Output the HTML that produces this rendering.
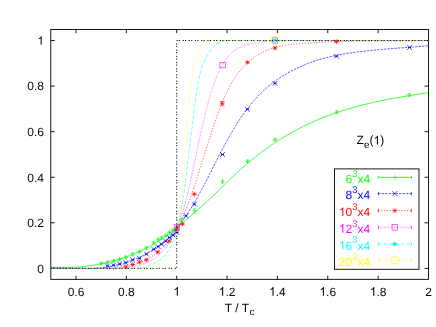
<!DOCTYPE html><html><head><meta charset="utf-8"><style>
html,body{margin:0;padding:0;background:#fff}
body{width:436px;height:327px;position:relative;overflow:hidden;font-family:"Liberation Sans",sans-serif;font-size:12px;color:#000}
svg{display:block}
text{font-family:"Liberation Sans",sans-serif}
</style></head><body>
<svg width="436" height="327" viewBox="0 0 436 327" style="position:absolute;left:0;top:0">
<rect width="436" height="327" fill="#fff"/>
<g stroke="#000" stroke-width="0.9" fill="none">
<rect x="50.8" y="29.5" width="377.7" height="249.85000000000002"/>
<path d="M50.8,268.40h4M428.5,268.40h-4"/>
<path d="M50.8,222.82h4M428.5,222.82h-4"/>
<path d="M50.8,177.24h4M428.5,177.24h-4"/>
<path d="M50.8,131.66h4M428.5,131.66h-4"/>
<path d="M50.8,86.08h4M428.5,86.08h-4"/>
<path d="M50.8,40.50h4M428.5,40.50h-4"/>
<path d="M75.98,279.35v-3.6M75.98,29.5v3.6"/>
<path d="M126.34,279.35v-3.6M126.34,29.5v3.6"/>
<path d="M176.70,279.35v-3.6M176.70,29.5v3.6"/>
<path d="M227.06,279.35v-3.6M227.06,29.5v3.6"/>
<path d="M277.42,279.35v-3.6M277.42,29.5v3.6"/>
<path d="M327.78,279.35v-3.6M327.78,29.5v3.6"/>
<path d="M378.14,279.35v-3.6M378.14,29.5v3.6"/>
</g>
<path d="M50.67,267.13 L52.18,267.22 L53.69,267.30 L55.21,267.37 L56.72,267.42 L58.23,267.47 L59.74,267.50 L61.26,267.53 L62.77,267.54 L64.28,267.54 L65.79,267.52 L67.31,267.50 L68.82,267.47 L70.33,267.42 L71.83,267.36 L73.34,267.29 L74.85,267.21 L76.35,267.12 L77.86,267.01 L79.36,266.90 L80.86,266.77 L82.36,266.63 L83.86,266.48 L85.36,266.32 L86.85,266.14 L88.34,265.96 L89.84,265.76 L91.32,265.55 L92.81,265.33 L94.29,265.10 L95.77,264.85 L97.25,264.59 L98.73,264.32 L100.20,264.04 L101.67,263.75 L103.14,263.44 L104.60,263.13 L106.06,262.80 L107.52,262.46 L108.97,262.11 L110.42,261.74 L111.87,261.36 L113.32,260.97 L114.75,260.57 L116.19,260.16 L117.62,259.73 L119.05,259.30 L120.47,258.85 L121.89,258.38 L123.31,257.91 L124.72,257.42 L126.12,256.92 L127.52,256.41 L128.92,255.89 L130.31,255.35 L131.69,254.81 L133.07,254.24 L134.45,253.67 L135.82,253.09 L137.18,252.49 L138.54,251.88 L139.90,251.26 L141.25,250.62 L142.59,249.97 L143.92,249.31 L145.25,248.64 L146.58,247.95 L147.90,247.26 L149.21,246.55 L150.51,245.82 L151.81,245.09 L153.10,244.34 L154.39,243.58 L155.67,242.80 L156.94,242.02 L158.20,241.22 L159.46,240.41 L160.71,239.59 L161.96,238.75 L163.20,237.91 L164.43,237.06 L165.66,236.20 L166.88,235.32 L168.10,234.44 L169.31,233.55 L170.52,232.65 L171.72,231.74 L172.92,230.83 L174.11,229.90 L175.30,228.97 L176.48,228.04 L177.66,227.09 L178.83,226.14 L180.00,225.19 L181.17,224.23 L182.33,223.26 L183.49,222.29 L184.65,221.31 L185.80,220.33 L186.94,219.35 L188.09,218.36 L189.23,217.37 L190.37,216.38 L191.51,215.39 L192.64,214.39 L193.77,213.39 L194.90,212.39 L196.03,211.39 L197.15,210.39 L198.27,209.39 L199.39,208.39 L200.51,207.38 L201.63,206.38 L202.74,205.38 L203.85,204.37 L204.96,203.36 L206.07,202.35 L207.17,201.34 L208.27,200.33 L209.37,199.31 L210.47,198.29 L211.56,197.27 L212.65,196.25 L213.74,195.22 L214.82,194.19 L215.90,193.16 L216.98,192.12 L218.06,191.08 L219.13,190.03 L220.20,188.98 L221.27,187.93 L222.33,186.88 L223.40,185.83 L224.46,184.77 L225.53,183.72 L226.60,182.67 L227.66,181.61 L228.73,180.56 L229.80,179.51 L230.87,178.46 L231.95,177.42 L233.03,176.38 L234.11,175.34 L235.20,174.31 L236.29,173.28 L237.39,172.26 L238.49,171.24 L239.60,170.23 L240.71,169.23 L241.82,168.23 L242.95,167.23 L244.08,166.25 L245.21,165.26 L246.35,164.29 L247.49,163.32 L248.64,162.35 L249.79,161.40 L250.95,160.44 L252.11,159.50 L253.27,158.56 L254.45,157.62 L255.62,156.70 L256.80,155.77 L257.99,154.86 L259.18,153.95 L260.38,153.05 L261.58,152.15 L262.78,151.26 L263.99,150.38 L265.21,149.50 L266.42,148.63 L267.65,147.76 L268.88,146.91 L270.11,146.05 L271.34,145.21 L272.58,144.37 L273.83,143.54 L275.08,142.72 L276.33,141.90 L277.59,141.09 L278.85,140.28 L280.12,139.48 L281.39,138.69 L282.67,137.91 L283.95,137.13 L285.23,136.36 L286.52,135.60 L287.81,134.84 L289.10,134.09 L290.40,133.35 L291.71,132.61 L293.02,131.88 L294.33,131.16 L295.64,130.45 L296.96,129.74 L298.29,129.04 L299.61,128.35 L300.94,127.66 L302.28,126.99 L303.62,126.32 L304.96,125.65 L306.30,125.00 L307.65,124.35 L309.01,123.71 L310.36,123.08 L311.72,122.45 L313.09,121.83 L314.46,121.22 L315.83,120.62 L317.20,120.03 L318.58,119.44 L319.96,118.86 L321.35,118.29 L322.73,117.73 L324.12,117.17 L325.52,116.62 L326.92,116.08 L328.32,115.55 L329.72,115.03 L331.13,114.51 L332.54,114.00 L333.95,113.50 L335.37,113.01 L336.79,112.52 L338.21,112.04 L339.64,111.57 L341.07,111.11 L342.50,110.65 L343.93,110.20 L345.36,109.76 L346.80,109.32 L348.24,108.89 L349.68,108.47 L351.13,108.05 L352.57,107.64 L354.02,107.23 L355.47,106.83 L356.92,106.44 L358.38,106.05 L359.83,105.67 L361.29,105.30 L362.75,104.93 L364.21,104.57 L365.67,104.21 L367.13,103.85 L368.60,103.51 L370.06,103.16 L371.53,102.83 L373.00,102.49 L374.47,102.17 L375.94,101.84 L377.41,101.52 L378.88,101.21 L380.35,100.90 L381.83,100.60 L383.30,100.30 L384.78,100.00 L386.25,99.71 L387.73,99.42 L389.20,99.14 L390.68,98.86 L392.16,98.58 L393.63,98.31 L395.11,98.04 L396.59,97.77 L398.06,97.51 L399.54,97.25 L401.02,96.99 L402.49,96.74 L403.97,96.49 L405.45,96.24 L406.92,96.00 L408.39,95.76 L409.87,95.52 L411.34,95.28 L412.81,95.05 L414.29,94.82 L415.76,94.59 L417.23,94.36 L418.70,94.13 L420.16,93.91 L421.63,93.69 L423.10,93.47 L424.56,93.25 L426.02,93.03 L427.49,92.82 L428.31,92.70" fill="none" stroke="#00ff00" stroke-width="0.78"/>
<path d="M51.02,267.65 L52.45,267.74 L53.90,267.83 L55.35,267.91 L56.80,268.00 L58.27,268.08 L59.74,268.16 L61.21,268.23 L62.69,268.31 L64.17,268.38 L65.66,268.40 L67.15,268.40 L68.65,268.40 L70.15,268.40 L71.65,268.40 L73.16,268.40 L74.67,268.40 L76.18,268.40 L77.70,268.40 L79.21,268.40 L80.73,268.40 L82.25,268.40 L83.77,268.40 L85.29,268.40 L86.81,268.40 L88.33,268.40 L89.86,268.40 L91.38,268.40 L92.90,268.39 L94.41,268.29 L95.93,268.18 L97.45,268.05 L98.96,267.92 L100.47,267.76 L101.98,267.60 L103.49,267.41 L104.99,267.21 L106.49,267.00 L107.99,266.77 L109.48,266.52 L110.96,266.26 L112.45,265.98 L113.93,265.68 L115.40,265.36 L116.86,265.02 L118.33,264.67 L119.78,264.30 L121.23,263.91 L122.68,263.51 L124.11,263.08 L125.54,262.64 L126.97,262.19 L128.38,261.71 L129.79,261.22 L131.19,260.71 L132.58,260.18 L133.97,259.63 L135.34,259.07 L136.71,258.49 L138.07,257.89 L139.42,257.27 L140.76,256.64 L142.09,255.99 L143.41,255.32 L144.72,254.64 L146.02,253.94 L147.31,253.22 L148.59,252.48 L149.86,251.72 L151.12,250.95 L152.36,250.16 L153.59,249.36 L154.82,248.53 L156.02,247.69 L157.22,246.84 L158.41,245.96 L159.58,245.07 L160.74,244.16 L161.88,243.23 L163.01,242.29 L164.13,241.33 L165.23,240.35 L166.32,239.36 L167.40,238.35 L168.46,237.32 L169.51,236.28 L170.55,235.22 L171.57,234.15 L172.58,233.06 L173.58,231.96 L174.57,230.85 L175.54,229.72 L176.51,228.58 L177.46,227.43 L178.40,226.27 L179.33,225.10 L180.25,223.91 L181.16,222.71 L182.05,221.51 L182.94,220.29 L183.82,219.07 L184.69,217.83 L185.55,216.59 L186.40,215.34 L187.24,214.08 L188.08,212.81 L188.90,211.54 L189.72,210.26 L190.53,208.97 L191.33,207.68 L192.12,206.38 L192.90,205.08 L193.68,203.77 L194.45,202.46 L195.22,201.15 L195.98,199.83 L196.73,198.51 L197.48,197.18 L198.22,195.86 L198.95,194.53 L199.68,193.20 L200.41,191.87 L201.13,190.54 L201.84,189.21 L202.55,187.88 L203.26,186.55 L203.96,185.21 L204.66,183.88 L205.36,182.55 L206.05,181.21 L206.74,179.88 L207.43,178.54 L208.11,177.20 L208.80,175.87 L209.48,174.53 L210.16,173.20 L210.84,171.86 L211.52,170.53 L212.19,169.19 L212.87,167.85 L213.55,166.52 L214.22,165.18 L214.90,163.85 L215.58,162.51 L216.25,161.18 L216.93,159.85 L217.61,158.51 L218.30,157.18 L218.98,155.85 L219.67,154.52 L220.35,153.19 L221.04,151.86 L221.74,150.53 L222.43,149.21 L223.13,147.88 L223.84,146.56 L224.54,145.23 L225.25,143.91 L225.97,142.59 L226.69,141.27 L227.42,139.95 L228.15,138.63 L228.88,137.32 L229.62,136.01 L230.37,134.70 L231.12,133.39 L231.88,132.08 L232.64,130.78 L233.41,129.48 L234.19,128.19 L234.98,126.90 L235.77,125.61 L236.57,124.33 L237.37,123.06 L238.19,121.78 L239.01,120.52 L239.84,119.26 L240.67,118.01 L241.52,116.76 L242.37,115.52 L243.23,114.29 L244.10,113.06 L244.98,111.84 L245.87,110.63 L246.77,109.43 L247.68,108.24 L248.60,107.06 L249.53,105.88 L250.46,104.72 L251.41,103.56 L252.37,102.41 L253.34,101.28 L254.32,100.15 L255.31,99.04 L256.32,97.94 L257.33,96.85 L258.35,95.77 L259.39,94.70 L260.44,93.65 L261.50,92.60 L262.58,91.57 L263.66,90.56 L264.76,89.56 L265.87,88.57 L266.99,87.59 L268.13,86.63 L269.27,85.68 L270.43,84.74 L271.60,83.82 L272.78,82.91 L273.97,82.02 L275.17,81.13 L276.38,80.26 L277.60,79.41 L278.83,78.57 L280.07,77.74 L281.32,76.92 L282.58,76.12 L283.85,75.33 L285.12,74.56 L286.41,73.80 L287.70,73.05 L289.01,72.31 L290.32,71.59 L291.64,70.89 L292.96,70.19 L294.30,69.51 L295.64,68.85 L296.98,68.19 L298.34,67.55 L299.70,66.93 L301.07,66.32 L302.44,65.72 L303.82,65.13 L305.21,64.56 L306.60,64.01 L308.00,63.46 L309.40,62.93 L310.81,62.42 L312.23,61.92 L313.64,61.43 L315.07,60.95 L316.49,60.49 L317.92,60.04 L319.36,59.61 L320.80,59.19 L322.24,58.78 L323.69,58.38 L325.14,57.99 L326.59,57.62 L328.05,57.25 L329.51,56.90 L330.97,56.56 L332.44,56.23 L333.91,55.91 L335.38,55.60 L336.85,55.30 L338.33,55.01 L339.81,54.72 L341.29,54.45 L342.78,54.19 L344.26,53.93 L345.75,53.68 L347.24,53.44 L348.73,53.21 L350.22,52.98 L351.72,52.76 L353.21,52.55 L354.71,52.35 L356.21,52.15 L357.70,51.95 L359.20,51.77 L360.70,51.58 L362.20,51.41 L363.70,51.23 L365.21,51.06 L366.71,50.90 L368.21,50.74 L369.71,50.59 L371.21,50.43 L372.71,50.28 L374.21,50.14 L375.71,49.99 L377.21,49.85 L378.71,49.71 L380.21,49.58 L381.70,49.44 L383.20,49.31 L384.70,49.18 L386.19,49.06 L387.69,48.93 L389.18,48.81 L390.68,48.69 L392.17,48.57 L393.66,48.45 L395.16,48.33 L396.65,48.21 L398.14,48.10 L399.63,47.98 L401.12,47.87 L402.60,47.75 L404.09,47.64 L405.58,47.53 L407.07,47.42 L408.55,47.31 L410.04,47.19 L411.52,47.08 L413.00,46.97 L414.48,46.86 L415.97,46.75 L417.45,46.63 L418.93,46.52 L420.40,46.40 L421.88,46.29 L423.36,46.17 L424.83,46.06 L426.31,45.94 L427.78,45.82 L428.31,45.77" fill="none" stroke="#0000ff" stroke-width="0.66" stroke-dasharray="2.30 1.15"/>
<path d="M50.93,268.40 L52.41,268.40 L53.88,268.40 L55.36,268.40 L56.85,268.38 L58.33,268.29 L59.82,268.21 L61.31,268.16 L62.80,268.11 L64.29,268.07 L65.78,268.05 L67.27,268.04 L68.77,268.04 L70.26,268.05 L71.76,268.06 L73.26,268.09 L74.76,268.12 L76.26,268.15 L77.76,268.19 L79.27,268.23 L80.77,268.28 L82.27,268.33 L83.78,268.38 L85.28,268.40 L86.79,268.40 L88.29,268.40 L89.80,268.40 L91.30,268.40 L92.81,268.40 L94.32,268.40 L95.82,268.40 L97.33,268.40 L98.84,268.40 L100.34,268.40 L101.85,268.40 L103.35,268.40 L104.86,268.40 L106.36,268.40 L107.86,268.40 L109.37,268.40 L110.87,268.40 L112.37,268.32 L113.87,268.20 L115.37,268.06 L116.87,267.91 L118.36,267.73 L119.86,267.54 L121.35,267.33 L122.84,267.09 L124.33,266.84 L125.81,266.56 L127.28,266.26 L128.75,265.93 L130.21,265.58 L131.66,265.21 L133.11,264.81 L134.54,264.39 L135.97,263.94 L137.38,263.47 L138.78,262.97 L140.18,262.44 L141.55,261.88 L142.92,261.29 L144.27,260.68 L145.60,260.04 L146.92,259.36 L148.22,258.66 L149.50,257.92 L150.77,257.15 L152.01,256.36 L153.24,255.53 L154.45,254.68 L155.65,253.80 L156.82,252.89 L157.97,251.96 L159.11,251.00 L160.22,250.02 L161.32,249.01 L162.40,247.98 L163.45,246.92 L164.49,245.85 L165.50,244.75 L166.50,243.63 L167.47,242.50 L168.42,241.34 L169.35,240.17 L170.26,238.97 L171.15,237.77 L172.02,236.54 L172.86,235.30 L173.69,234.05 L174.49,232.78 L175.28,231.50 L176.05,230.20 L176.80,228.90 L177.54,227.58 L178.26,226.26 L178.96,224.93 L179.65,223.58 L180.33,222.24 L180.99,220.88 L181.64,219.52 L182.27,218.15 L182.90,216.78 L183.51,215.40 L184.11,214.01 L184.70,212.62 L185.28,211.23 L185.85,209.83 L186.41,208.43 L186.97,207.03 L187.52,205.62 L188.05,204.21 L188.59,202.80 L189.11,201.39 L189.63,199.97 L190.14,198.55 L190.64,197.13 L191.14,195.71 L191.64,194.29 L192.13,192.87 L192.61,191.44 L193.09,190.02 L193.56,188.59 L194.04,187.17 L194.50,185.74 L194.97,184.32 L195.43,182.89 L195.89,181.47 L196.35,180.05 L196.80,178.62 L197.26,177.20 L197.71,175.78 L198.16,174.36 L198.61,172.94 L199.06,171.52 L199.51,170.11 L199.95,168.69 L200.40,167.27 L200.84,165.86 L201.28,164.44 L201.73,163.02 L202.17,161.61 L202.61,160.19 L203.06,158.78 L203.50,157.36 L203.94,155.94 L204.38,154.53 L204.83,153.11 L205.27,151.70 L205.72,150.28 L206.16,148.86 L206.61,147.44 L207.06,146.03 L207.51,144.61 L207.96,143.19 L208.41,141.77 L208.86,140.35 L209.32,138.93 L209.78,137.50 L210.24,136.08 L210.70,134.66 L211.16,133.23 L211.63,131.80 L212.10,130.38 L212.57,128.95 L213.05,127.52 L213.53,126.08 L214.01,124.65 L214.50,123.22 L214.98,121.78 L215.48,120.34 L215.97,118.90 L216.47,117.46 L216.98,116.02 L217.49,114.59 L218.01,113.15 L218.53,111.71 L219.06,110.28 L219.60,108.84 L220.14,107.41 L220.69,105.99 L221.25,104.56 L221.82,103.15 L222.40,101.73 L222.99,100.32 L223.58,98.92 L224.19,97.53 L224.81,96.14 L225.44,94.76 L226.08,93.38 L226.74,92.02 L227.41,90.66 L228.09,89.31 L228.78,87.97 L229.49,86.65 L230.21,85.33 L230.94,84.03 L231.70,82.73 L232.46,81.45 L233.25,80.18 L234.04,78.93 L234.86,77.69 L235.69,76.46 L236.55,75.25 L237.42,74.05 L238.30,72.87 L239.21,71.71 L240.14,70.56 L241.08,69.43 L242.05,68.32 L243.04,67.22 L244.04,66.15 L245.07,65.09 L246.13,64.05 L247.20,63.04 L248.30,62.04 L249.41,61.07 L250.55,60.12 L251.71,59.19 L252.89,58.29 L254.09,57.41 L255.31,56.57 L256.55,55.74 L257.81,54.95 L259.08,54.19 L260.38,53.46 L261.69,52.75 L263.01,52.08 L264.36,51.44 L265.72,50.83 L267.09,50.25 L268.47,49.70 L269.87,49.18 L271.28,48.69 L272.70,48.23 L274.13,47.79 L275.56,47.38 L277.01,47.00 L278.46,46.64 L279.92,46.31 L281.39,46.00 L282.86,45.72 L284.34,45.45 L285.83,45.20 L287.32,44.97 L288.81,44.76 L290.31,44.57 L291.81,44.38 L293.31,44.21 L294.82,44.06 L296.33,43.91 L297.84,43.78 L299.35,43.65 L300.86,43.53 L302.38,43.41 L303.89,43.30 L305.40,43.19 L306.91,43.09 L308.42,42.99 L309.93,42.90 L311.44,42.80 L312.94,42.71 L314.45,42.63 L315.95,42.54 L317.46,42.46 L318.96,42.38 L320.47,42.31 L321.97,42.24 L323.47,42.17 L324.98,42.10 L326.48,42.04 L327.98,41.97 L329.48,41.92 L330.98,41.86 L332.48,41.81 L333.98,41.75 L335.48,41.71 L336.97,41.66 L338.47,41.61 L339.97,41.57 L341.47,41.53 L342.96,41.49 L344.46,41.45 L345.96,41.42 L347.45,41.39 L348.95,41.36 L350.44,41.33 L351.94,41.30 L353.44,41.27 L354.93,41.25 L356.43,41.23 L357.92,41.20 L359.42,41.18 L360.91,41.16 L362.41,41.15 L363.90,41.13 L365.39,41.11 L366.89,41.10 L368.38,41.09 L369.88,41.07 L371.37,41.06 L372.87,41.05 L374.36,41.04 L375.86,41.03 L377.36,41.02 L378.85,41.02 L380.35,41.01 L381.84,41.00 L383.34,41.00 L384.84,40.99 L386.33,40.98 L387.83,40.98 L389.33,40.97 L390.83,40.97 L392.33,40.96 L393.83,40.96 L395.32,40.95 L396.82,40.95 L398.33,40.94 L399.83,40.93 L401.33,40.93 L402.83,40.92 L404.33,40.91 L405.83,40.91 L407.34,40.90 L408.84,40.89 L410.35,40.88 L411.85,40.87 L413.36,40.86 L414.87,40.85 L416.37,40.84 L417.88,40.82 L419.39,40.81 L420.90,40.79 L422.41,40.78 L423.92,40.76 L425.44,40.74 L426.95,40.72 L428.47,40.70 L428.58,40.70" fill="none" stroke="#ff0000" stroke-width="0.66" stroke-dasharray="1.15 1.72"/>
<path d="M50.80,268.40 L52.30,268.40 L53.80,268.40 L55.30,268.40 L56.80,268.40 L58.31,268.34 L59.81,268.28 L61.31,268.23 L62.81,268.19 L64.31,268.16 L65.81,268.13 L67.31,268.12 L68.81,268.12 L70.31,268.12 L71.81,268.12 L73.31,268.14 L74.81,268.16 L76.31,268.18 L77.81,268.21 L79.31,268.24 L80.81,268.28 L82.31,268.32 L83.81,268.35 L85.31,268.39 L86.81,268.40 L88.31,268.40 L89.81,268.40 L91.31,268.40 L92.81,268.40 L94.31,268.40 L95.81,268.40 L97.31,268.40 L98.81,268.40 L100.31,268.40 L101.81,268.40 L103.31,268.40 L104.81,268.40 L106.31,268.40 L107.80,268.40 L109.30,268.40 L110.80,268.40 L112.30,268.40 L113.80,268.40 L115.30,268.40 L116.80,268.40 L118.30,268.40 L119.80,268.32 L121.29,268.21 L122.79,268.09 L124.29,267.95 L125.78,267.80 L127.27,267.62 L128.76,267.43 L130.24,267.21 L131.71,266.98 L133.18,266.71 L134.64,266.42 L136.10,266.10 L137.54,265.75 L138.97,265.37 L140.40,264.96 L141.81,264.51 L143.21,264.03 L144.59,263.51 L145.96,262.95 L147.32,262.35 L148.66,261.71 L149.98,261.02 L151.29,260.29 L152.57,259.52 L153.84,258.70 L155.09,257.84 L156.31,256.93 L157.50,255.99 L158.67,255.01 L159.81,253.99 L160.92,252.95 L161.99,251.86 L163.03,250.75 L164.04,249.61 L165.00,248.45 L165.93,247.26 L166.82,246.04 L167.67,244.81 L168.49,243.56 L169.28,242.29 L170.05,241.00 L170.78,239.70 L171.50,238.39 L172.19,237.07 L172.87,235.74 L173.53,234.40 L174.18,233.06 L174.81,231.71 L175.43,230.35 L176.04,228.99 L176.63,227.63 L177.21,226.25 L177.77,224.88 L178.32,223.49 L178.87,222.11 L179.39,220.71 L179.91,219.32 L180.42,217.92 L180.91,216.51 L181.40,215.10 L181.87,213.68 L182.33,212.27 L182.79,210.84 L183.23,209.42 L183.67,207.99 L184.10,206.55 L184.52,205.12 L184.93,203.68 L185.33,202.23 L185.73,200.79 L186.11,199.34 L186.50,197.89 L186.87,196.43 L187.24,194.98 L187.61,193.52 L187.96,192.06 L188.32,190.60 L188.66,189.13 L189.01,187.67 L189.35,186.20 L189.68,184.73 L190.02,183.26 L190.34,181.79 L190.67,180.32 L190.99,178.85 L191.32,177.38 L191.63,175.91 L191.95,174.44 L192.27,172.96 L192.58,171.49 L192.90,170.02 L193.21,168.54 L193.52,167.07 L193.84,165.60 L194.15,164.13 L194.46,162.65 L194.77,161.18 L195.08,159.71 L195.39,158.24 L195.70,156.77 L196.01,155.30 L196.33,153.83 L196.64,152.36 L196.95,150.89 L197.26,149.42 L197.57,147.95 L197.89,146.48 L198.20,145.02 L198.52,143.55 L198.83,142.08 L199.15,140.62 L199.47,139.15 L199.79,137.69 L200.11,136.22 L200.43,134.76 L200.76,133.30 L201.08,131.84 L201.41,130.38 L201.74,128.92 L202.07,127.46 L202.40,126.00 L202.74,124.54 L203.08,123.09 L203.42,121.63 L203.76,120.18 L204.10,118.72 L204.45,117.27 L204.80,115.82 L205.15,114.37 L205.51,112.92 L205.87,111.47 L206.23,110.03 L206.60,108.58 L206.97,107.14 L207.34,105.70 L207.72,104.25 L208.10,102.81 L208.49,101.37 L208.88,99.94 L209.28,98.50 L209.69,97.07 L210.11,95.63 L210.53,94.20 L210.97,92.77 L211.41,91.34 L211.87,89.91 L212.33,88.48 L212.81,87.05 L213.30,85.63 L213.80,84.20 L214.32,82.78 L214.85,81.36 L215.39,79.94 L215.95,78.52 L216.53,77.10 L217.12,75.69 L217.73,74.28 L218.36,72.87 L219.01,71.47 L219.67,70.08 L220.36,68.71 L221.07,67.35 L221.81,66.00 L222.56,64.68 L223.35,63.38 L224.15,62.10 L224.99,60.85 L225.85,59.63 L226.74,58.44 L227.66,57.28 L228.61,56.16 L229.59,55.08 L230.61,54.04 L231.66,53.04 L232.74,52.08 L233.86,51.17 L235.01,50.31 L236.20,49.51 L237.43,48.75 L238.69,48.04 L239.98,47.38 L241.30,46.76 L242.64,46.18 L244.02,45.65 L245.42,45.15 L246.83,44.70 L248.27,44.27 L249.73,43.89 L251.21,43.53 L252.69,43.20 L254.19,42.91 L255.71,42.64 L257.23,42.39 L258.75,42.17 L260.29,41.97 L261.82,41.79 L263.36,41.63 L264.89,41.48 L266.43,41.35 L267.96,41.23 L269.48,41.12 L271.00,41.02 L272.52,40.93 L274.03,40.86 L275.54,40.79 L277.05,40.73 L278.55,40.68 L280.05,40.64 L281.55,40.61 L283.05,40.58 L284.55,40.56 L286.04,40.54 L287.53,40.53 L289.02,40.52 L290.51,40.52 L292.00,40.52 L293.49,40.52 L294.98,40.53 L296.47,40.53 L297.96,40.54 L299.44,40.54 L300.93,40.55 L302.42,40.55 L303.91,40.56 L305.41,40.56 L306.90,40.57 L308.39,40.57 L309.88,40.57 L311.38,40.58 L312.87,40.58 L314.37,40.58 L315.86,40.58 L317.36,40.59 L318.85,40.59 L320.35,40.59 L321.85,40.59 L323.34,40.59 L324.84,40.59 L326.34,40.59 L327.84,40.59 L329.34,40.59 L330.84,40.58 L332.34,40.58 L333.84,40.58 L335.34,40.58 L336.84,40.58 L338.34,40.58 L339.84,40.57 L341.34,40.57 L342.84,40.57 L344.34,40.57 L345.85,40.56 L347.35,40.56 L348.85,40.56 L350.35,40.55 L351.85,40.55 L353.36,40.55 L354.86,40.54 L356.36,40.54 L357.87,40.54 L359.37,40.53 L360.87,40.53 L362.38,40.53 L363.88,40.52 L365.38,40.52 L366.89,40.52 L368.39,40.51 L369.89,40.51 L371.40,40.51 L372.90,40.50 L374.40,40.50 L375.91,40.50 L377.41,40.50 L378.91,40.50 L380.41,40.50 L381.92,40.50 L383.42,40.50 L384.92,40.50 L386.42,40.50 L387.93,40.50 L389.43,40.50 L390.93,40.50 L392.43,40.50 L393.93,40.50 L395.43,40.50 L396.93,40.50 L398.43,40.50 L399.93,40.50 L401.43,40.50 L402.93,40.50 L404.43,40.50 L405.93,40.50 L407.42,40.50 L408.92,40.50 L410.42,40.50 L411.92,40.50 L413.41,40.50 L414.91,40.50 L416.40,40.50 L417.90,40.50 L419.39,40.50 L420.89,40.51 L422.38,40.51 L423.87,40.52 L425.36,40.53 L426.85,40.53 L428.35,40.54 L428.45,40.54" fill="none" stroke="#ff00ff" stroke-width="0.66" stroke-dasharray="0.57 0.86"/>
<path d="M50.66,268.40 L52.20,268.40 L53.74,268.40 L55.27,268.40 L56.80,268.40 L58.32,268.40 L59.84,268.40 L61.36,268.40 L62.87,268.40 L64.39,268.40 L65.89,268.40 L67.40,268.40 L68.90,268.40 L70.40,268.40 L71.90,268.40 L73.40,268.39 L74.89,268.39 L76.39,268.39 L77.88,268.39 L79.37,268.38 L80.86,268.38 L82.35,268.38 L83.83,268.38 L85.32,268.38 L86.81,268.37 L88.29,268.37 L89.78,268.37 L91.27,268.37 L92.75,268.37 L94.24,268.37 L95.73,268.37 L97.22,268.37 L98.71,268.37 L100.20,268.37 L101.69,268.37 L103.18,268.38 L104.68,268.38 L106.18,268.38 L107.68,268.39 L109.18,268.39 L110.68,268.40 L112.19,268.40 L113.70,268.40 L115.21,268.40 L116.73,268.40 L118.24,268.40 L119.77,268.40 L121.29,268.40 L122.82,268.40 L124.35,268.40 L125.88,268.40 L127.41,268.40 L128.93,268.40 L130.46,268.40 L131.98,268.35 L133.50,268.27 L135.01,268.18 L136.51,268.06 L138.00,267.91 L139.49,267.74 L140.96,267.53 L142.43,267.28 L143.88,267.00 L145.32,266.69 L146.74,266.32 L148.15,265.92 L149.54,265.46 L150.92,264.96 L152.27,264.40 L153.61,263.79 L154.92,263.13 L156.21,262.40 L157.48,261.61 L158.72,260.77 L159.93,259.88 L161.10,258.94 L162.24,257.94 L163.33,256.90 L164.39,255.82 L165.39,254.69 L166.35,253.53 L167.26,252.33 L168.11,251.09 L168.90,249.82 L169.64,248.52 L170.32,247.19 L170.97,245.84 L171.57,244.47 L172.14,243.08 L172.68,241.68 L173.19,240.27 L173.68,238.84 L174.16,237.41 L174.62,235.98 L175.07,234.54 L175.50,233.11 L175.93,231.67 L176.34,230.22 L176.75,228.78 L177.14,227.33 L177.52,225.88 L177.89,224.43 L178.26,222.98 L178.61,221.52 L178.95,220.06 L179.29,218.60 L179.61,217.14 L179.93,215.68 L180.24,214.21 L180.54,212.74 L180.83,211.28 L181.12,209.81 L181.39,208.33 L181.66,206.86 L181.93,205.39 L182.19,203.91 L182.44,202.43 L182.68,200.95 L182.92,199.47 L183.16,197.99 L183.39,196.51 L183.61,195.03 L183.83,193.55 L184.04,192.06 L184.25,190.58 L184.46,189.09 L184.67,187.60 L184.87,186.12 L185.06,184.63 L185.26,183.14 L185.45,181.65 L185.64,180.16 L185.82,178.67 L186.01,177.18 L186.19,175.69 L186.38,174.20 L186.56,172.71 L186.74,171.22 L186.92,169.73 L187.10,168.24 L187.28,166.75 L187.46,165.26 L187.64,163.77 L187.82,162.28 L188.00,160.79 L188.18,159.30 L188.36,157.81 L188.54,156.32 L188.72,154.83 L188.89,153.35 L189.07,151.86 L189.25,150.37 L189.43,148.88 L189.61,147.39 L189.79,145.90 L189.97,144.41 L190.15,142.92 L190.33,141.44 L190.51,139.95 L190.69,138.46 L190.87,136.97 L191.05,135.48 L191.23,133.99 L191.41,132.51 L191.59,131.02 L191.78,129.53 L191.96,128.04 L192.14,126.55 L192.32,125.07 L192.51,123.58 L192.69,122.09 L192.87,120.60 L193.06,119.11 L193.24,117.63 L193.43,116.14 L193.61,114.65 L193.80,113.16 L193.99,111.67 L194.17,110.19 L194.36,108.70 L194.55,107.21 L194.74,105.72 L194.93,104.24 L195.12,102.75 L195.31,101.26 L195.51,99.77 L195.70,98.28 L195.90,96.80 L196.10,95.31 L196.30,93.82 L196.51,92.34 L196.73,90.85 L196.96,89.37 L197.19,87.89 L197.44,86.40 L197.69,84.92 L197.96,83.45 L198.24,81.97 L198.54,80.49 L198.85,79.02 L199.18,77.55 L199.52,76.08 L199.88,74.61 L200.27,73.15 L200.67,71.69 L201.09,70.23 L201.54,68.77 L202.01,67.32 L202.50,65.87 L203.02,64.42 L203.57,62.98 L204.14,61.56 L204.74,60.14 L205.38,58.75 L206.04,57.38 L206.74,56.03 L207.47,54.71 L208.23,53.43 L209.03,52.18 L209.87,50.98 L210.74,49.82 L211.65,48.71 L212.61,47.65 L213.60,46.65 L214.64,45.71 L215.71,44.84 L216.84,44.03 L218.01,43.29 L219.22,42.63 L220.49,42.04 L221.80,41.54 L223.16,41.13 L224.57,40.79 L226.01,40.53 L227.49,40.50 L229.00,40.50 L230.54,40.50 L232.09,40.50 L233.65,40.50 L235.23,40.50 L236.80,40.50 L238.38,40.50 L239.94,40.50 L241.50,40.50 L243.04,40.50 L244.57,40.50 L246.10,40.50 L247.61,40.50 L249.12,40.50 L250.62,40.50 L252.12,40.50 L253.61,40.50 L255.10,40.52 L256.59,40.54 L258.08,40.56 L259.57,40.57 L261.06,40.58 L262.55,40.59 L264.04,40.60 L265.53,40.61 L267.02,40.61 L268.52,40.62 L270.01,40.62 L271.50,40.62 L273.00,40.62 L274.49,40.61 L275.99,40.61 L277.49,40.60 L278.98,40.60 L280.48,40.59 L281.98,40.58 L283.47,40.58 L284.97,40.57 L286.47,40.56 L287.97,40.55 L289.47,40.54 L290.96,40.54 L292.46,40.53 L293.96,40.52 L295.46,40.52 L296.96,40.51 L298.46,40.50 L299.95,40.50 L301.45,40.50 L302.95,40.50 L304.45,40.50 L305.95,40.50 L307.45,40.50 L308.95,40.50 L310.45,40.50 L311.95,40.50 L313.45,40.50 L314.95,40.50 L316.45,40.50 L317.95,40.50 L319.45,40.50 L320.95,40.50 L322.44,40.50 L323.94,40.50 L325.44,40.50 L326.94,40.50 L328.44,40.50 L329.94,40.50 L331.44,40.50 L332.95,40.50 L334.45,40.50 L335.95,40.50 L337.45,40.50 L338.95,40.50 L340.45,40.50 L341.95,40.50 L343.45,40.50 L344.95,40.50 L346.45,40.50 L347.95,40.50 L349.45,40.50 L350.95,40.50 L352.45,40.50 L353.95,40.50 L355.45,40.50 L356.95,40.50 L358.45,40.50 L359.96,40.50 L361.46,40.50 L362.96,40.50 L364.46,40.50 L365.96,40.50 L367.46,40.51 L368.96,40.51 L370.46,40.51 L371.96,40.51 L373.47,40.51 L374.97,40.52 L376.47,40.52 L377.97,40.52 L379.47,40.52 L380.97,40.52 L382.47,40.52 L383.97,40.53 L385.47,40.53 L386.98,40.53 L388.48,40.53 L389.98,40.53 L391.48,40.53 L392.98,40.53 L394.48,40.53 L395.98,40.53 L397.48,40.53 L398.99,40.53 L400.49,40.53 L401.99,40.53 L403.49,40.52 L404.99,40.52 L406.49,40.52 L407.99,40.52 L409.49,40.51 L411.00,40.51 L412.50,40.51 L414.00,40.51 L415.50,40.50 L417.00,40.50 L418.50,40.50 L420.00,40.50 L421.50,40.50 L423.01,40.50 L424.51,40.50 L426.01,40.50 L427.51,40.50 L428.49,40.50" fill="none" stroke="#00ffff" stroke-width="0.66" stroke-dasharray="2.88 1.15 0.57 1.15"/>
<path d="M50.63,268.19 L52.17,268.25 L53.72,268.30 L55.26,268.35 L56.79,268.39 L58.32,268.40 L59.85,268.40 L61.37,268.40 L62.89,268.40 L64.40,268.40 L65.91,268.40 L67.42,268.40 L68.92,268.40 L70.43,268.40 L71.93,268.40 L73.42,268.40 L74.92,268.40 L76.41,268.40 L77.90,268.40 L79.39,268.40 L80.88,268.40 L82.37,268.40 L83.85,268.40 L85.34,268.40 L86.82,268.39 L88.31,268.36 L89.79,268.34 L91.27,268.32 L92.76,268.30 L94.24,268.28 L95.73,268.26 L97.21,268.25 L98.70,268.23 L100.19,268.22 L101.68,268.21 L103.17,268.20 L104.66,268.19 L106.15,268.19 L107.65,268.19 L109.15,268.19 L110.65,268.20 L112.15,268.21 L113.66,268.22 L115.17,268.24 L116.68,268.27 L118.20,268.30 L119.72,268.33 L121.24,268.37 L122.77,268.40 L124.30,268.40 L125.84,268.40 L127.38,268.40 L128.92,268.40 L130.45,268.40 L131.99,268.40 L133.52,268.40 L135.05,268.40 L136.58,268.40 L138.10,268.40 L139.61,268.40 L141.11,268.40 L142.60,268.40 L144.08,268.32 L145.55,268.14 L147.01,267.91 L148.45,267.65 L149.87,267.34 L151.28,266.97 L152.67,266.56 L154.05,266.09 L155.40,265.56 L156.73,264.98 L158.03,264.32 L159.32,263.60 L160.57,262.82 L161.79,261.97 L162.98,261.07 L164.13,260.10 L165.23,259.09 L166.28,258.02 L167.28,256.90 L168.22,255.74 L169.10,254.54 L169.92,253.29 L170.67,252.01 L171.34,250.70 L171.95,249.35 L172.49,247.98 L172.98,246.58 L173.42,245.15 L173.81,243.71 L174.17,242.25 L174.49,240.77 L174.79,239.29 L175.06,237.80 L175.32,236.30 L175.57,234.80 L175.81,233.30 L176.05,231.80 L176.29,230.30 L176.53,228.81 L176.76,227.31 L176.98,225.81 L177.21,224.32 L177.43,222.82 L177.64,221.33 L177.86,219.84 L178.07,218.34 L178.28,216.85 L178.48,215.36 L178.68,213.87 L178.88,212.38 L179.08,210.89 L179.27,209.40 L179.46,207.91 L179.65,206.42 L179.83,204.93 L180.01,203.44 L180.19,201.95 L180.37,200.47 L180.55,198.98 L180.72,197.49 L180.89,196.00 L181.06,194.52 L181.22,193.03 L181.39,191.54 L181.55,190.05 L181.71,188.57 L181.86,187.08 L182.02,185.59 L182.17,184.10 L182.33,182.62 L182.48,181.13 L182.62,179.64 L182.77,178.15 L182.92,176.67 L183.06,175.18 L183.20,173.69 L183.34,172.20 L183.48,170.71 L183.62,169.22 L183.76,167.73 L183.90,166.24 L184.03,164.75 L184.16,163.25 L184.30,161.76 L184.43,160.27 L184.56,158.78 L184.69,157.28 L184.82,155.79 L184.95,154.29 L185.08,152.80 L185.20,151.30 L185.33,149.81 L185.46,148.31 L185.58,146.82 L185.71,145.32 L185.83,143.82 L185.95,142.33 L186.08,140.83 L186.20,139.33 L186.32,137.83 L186.45,136.34 L186.57,134.84 L186.69,133.34 L186.81,131.85 L186.94,130.35 L187.06,128.85 L187.18,127.35 L187.30,125.86 L187.43,124.36 L187.55,122.86 L187.67,121.36 L187.80,119.87 L187.92,118.37 L188.04,116.87 L188.17,115.38 L188.29,113.88 L188.42,112.39 L188.54,110.89 L188.67,109.40 L188.80,107.90 L188.93,106.41 L189.06,104.91 L189.19,103.42 L189.32,101.93 L189.45,100.43 L189.58,98.94 L189.71,97.45 L189.85,95.96 L189.98,94.47 L190.12,92.98 L190.26,91.49 L190.40,90.00 L190.54,88.52 L190.69,87.03 L190.85,85.54 L191.01,84.05 L191.18,82.56 L191.35,81.08 L191.54,79.59 L191.73,78.10 L191.93,76.61 L192.15,75.12 L192.38,73.63 L192.62,72.13 L192.87,70.64 L193.14,69.15 L193.42,67.65 L193.72,66.16 L194.04,64.66 L194.38,63.16 L194.73,61.66 L195.11,60.16 L195.50,58.65 L195.92,57.15 L196.36,55.65 L196.84,54.18 L197.35,52.73 L197.91,51.32 L198.52,49.97 L199.18,48.67 L199.90,47.45 L200.70,46.31 L201.56,45.26 L202.50,44.32 L203.53,43.48 L204.64,42.77 L205.83,42.18 L207.10,41.69 L208.43,41.29 L209.82,40.98 L211.26,40.74 L212.74,40.56 L214.25,40.50 L215.79,40.50 L217.34,40.50 L218.90,40.50 L220.47,40.50 L222.03,40.50 L223.58,40.50 L225.12,40.50 L226.66,40.50 L228.19,40.50 L229.72,40.50 L231.24,40.50 L232.76,40.50 L234.27,40.50 L235.78,40.50 L237.28,40.50 L238.79,40.50 L240.29,40.50 L241.78,40.50 L243.28,40.50 L244.77,40.50 L246.26,40.50 L247.75,40.50 L249.23,40.50 L250.72,40.50 L252.21,40.52 L253.70,40.53 L255.19,40.54 L256.68,40.55 L258.17,40.56 L259.66,40.57 L261.15,40.58 L262.65,40.58 L264.14,40.58 L265.64,40.58 L267.13,40.59 L268.63,40.59 L270.13,40.58 L271.63,40.58 L273.13,40.58 L274.63,40.58 L276.13,40.57 L277.63,40.57 L279.13,40.56 L280.63,40.56 L282.14,40.55 L283.64,40.55 L285.14,40.54 L286.64,40.53 L288.15,40.53 L289.65,40.52 L291.15,40.52 L292.65,40.51 L294.15,40.51 L295.66,40.50 L297.16,40.50 L298.66,40.50 L300.16,40.50 L301.66,40.50 L303.16,40.50 L304.67,40.50 L306.17,40.50 L307.67,40.50 L309.17,40.50 L310.67,40.50 L312.17,40.50 L313.67,40.50 L315.17,40.50 L316.67,40.50 L318.17,40.50 L319.67,40.50 L321.17,40.50 L322.67,40.50 L324.17,40.50 L325.67,40.50 L327.17,40.50 L328.67,40.50 L330.17,40.50 L331.67,40.50 L333.17,40.50 L334.67,40.50 L336.17,40.50 L337.67,40.50 L339.17,40.50 L340.67,40.50 L342.17,40.50 L343.67,40.50 L345.17,40.50 L346.67,40.50 L348.17,40.50 L349.67,40.50 L351.17,40.50 L352.67,40.50 L354.17,40.50 L355.67,40.50 L357.16,40.50 L358.66,40.50 L360.16,40.50 L361.66,40.50 L363.16,40.50 L364.66,40.50 L366.16,40.50 L367.66,40.51 L369.16,40.51 L370.66,40.51 L372.16,40.51 L373.66,40.51 L375.16,40.51 L376.66,40.51 L378.16,40.52 L379.66,40.52 L381.16,40.52 L382.66,40.52 L384.16,40.52 L385.66,40.52 L387.16,40.52 L388.66,40.52 L390.16,40.52 L391.66,40.52 L393.16,40.52 L394.66,40.52 L396.16,40.52 L397.66,40.52 L399.16,40.52 L400.66,40.52 L402.16,40.52 L403.66,40.52 L405.16,40.52 L406.67,40.52 L408.17,40.51 L409.67,40.51 L411.17,40.51 L412.67,40.51 L414.17,40.51 L415.67,40.50 L417.18,40.50 L418.68,40.50 L420.18,40.50 L421.68,40.50 L423.18,40.50 L424.69,40.50 L426.19,40.50 L427.69,40.50 L428.51,40.50" fill="none" stroke="#ffff00" stroke-width="0.66" stroke-dasharray="2.30 1.72 0.57 1.72"/>
<rect x="174.15" y="224.65" width="5.5" height="5.5" fill="none" stroke="#ff00ff" stroke-width="0.6"/>
<rect x="219.85" y="62.35" width="5.5" height="5.5" fill="none" stroke="#ff00ff" stroke-width="0.6"/>
<rect x="272.25" y="37.75" width="5.5" height="5.5" fill="none" stroke="#ff00ff" stroke-width="0.6"/>
<rect x="273.20" y="38.70" width="3.6" height="3.6" fill="#00ffff"/>
<circle cx="275.00" cy="40.50" r="3.9" fill="none" stroke="#ffff00" stroke-width="0.7"/>
<path d="M99.10,263.40h4.4M101.30,261.20v4.4" stroke="#00ff00" stroke-width="0.62" fill="none"/>
<path d="M99.70,262.10h3.2M99.70,264.70h3.2M101.30,262.10v2.6" stroke="#00ff00" stroke-width="0.45" fill="none"/>
<path d="M105.30,262.30h4.4M107.50,260.10v4.4" stroke="#00ff00" stroke-width="0.62" fill="none"/>
<path d="M105.90,261.00h3.2M105.90,263.60h3.2M107.50,261.00v2.6" stroke="#00ff00" stroke-width="0.45" fill="none"/>
<path d="M111.30,261.00h4.4M113.50,258.80v4.4" stroke="#00ff00" stroke-width="0.62" fill="none"/>
<path d="M111.90,259.70h3.2M111.90,262.30h3.2M113.50,259.70v2.6" stroke="#00ff00" stroke-width="0.45" fill="none"/>
<path d="M117.40,259.40h4.4M119.60,257.20v4.4" stroke="#00ff00" stroke-width="0.62" fill="none"/>
<path d="M118.00,258.10h3.2M118.00,260.70h3.2M119.60,258.10v2.6" stroke="#00ff00" stroke-width="0.45" fill="none"/>
<path d="M123.60,257.30h4.4M125.80,255.10v4.4" stroke="#00ff00" stroke-width="0.62" fill="none"/>
<path d="M124.20,256.00h3.2M124.20,258.60h3.2M125.80,256.00v2.6" stroke="#00ff00" stroke-width="0.45" fill="none"/>
<path d="M130.40,254.10h4.4M132.60,251.90v4.4" stroke="#00ff00" stroke-width="0.62" fill="none"/>
<path d="M131.00,252.80h3.2M131.00,255.40h3.2M132.60,252.80v2.6" stroke="#00ff00" stroke-width="0.45" fill="none"/>
<path d="M137.30,251.70h4.4M139.50,249.50v4.4" stroke="#00ff00" stroke-width="0.62" fill="none"/>
<path d="M137.90,250.40h3.2M137.90,253.00h3.2M139.50,250.40v2.6" stroke="#00ff00" stroke-width="0.45" fill="none"/>
<path d="M144.20,248.00h4.4M146.40,245.80v4.4" stroke="#00ff00" stroke-width="0.62" fill="none"/>
<path d="M144.80,246.70h3.2M144.80,249.30h3.2M146.40,246.70v2.6" stroke="#00ff00" stroke-width="0.45" fill="none"/>
<path d="M151.50,242.90h4.4M153.70,240.70v4.4" stroke="#00ff00" stroke-width="0.62" fill="none"/>
<path d="M152.10,241.60h3.2M152.10,244.20h3.2M153.70,241.60v2.6" stroke="#00ff00" stroke-width="0.45" fill="none"/>
<path d="M155.90,239.70h4.4M158.10,237.50v4.4" stroke="#00ff00" stroke-width="0.62" fill="none"/>
<path d="M156.50,238.40h3.2M156.50,241.00h3.2M158.10,238.40v2.6" stroke="#00ff00" stroke-width="0.45" fill="none"/>
<path d="M159.30,237.90h4.4M161.50,235.70v4.4" stroke="#00ff00" stroke-width="0.62" fill="none"/>
<path d="M159.90,236.60h3.2M159.90,239.20h3.2M161.50,236.60v2.6" stroke="#00ff00" stroke-width="0.45" fill="none"/>
<path d="M163.50,235.60h4.4M165.70,233.40v4.4" stroke="#00ff00" stroke-width="0.62" fill="none"/>
<path d="M164.10,234.30h3.2M164.10,236.90h3.2M165.70,234.30v2.6" stroke="#00ff00" stroke-width="0.45" fill="none"/>
<path d="M167.10,232.60h4.4M169.30,230.40v4.4" stroke="#00ff00" stroke-width="0.62" fill="none"/>
<path d="M167.70,231.30h3.2M167.70,233.90h3.2M169.30,231.30v2.6" stroke="#00ff00" stroke-width="0.45" fill="none"/>
<path d="M170.80,230.30h4.4M173.00,228.10v4.4" stroke="#00ff00" stroke-width="0.62" fill="none"/>
<path d="M171.40,229.00h3.2M171.40,231.60h3.2M173.00,229.00v2.6" stroke="#00ff00" stroke-width="0.45" fill="none"/>
<path d="M174.70,227.30h4.4M176.90,225.10v4.4" stroke="#00ff00" stroke-width="0.62" fill="none"/>
<path d="M175.30,226.00h3.2M175.30,228.60h3.2M176.90,226.00v2.6" stroke="#00ff00" stroke-width="0.45" fill="none"/>
<path d="M179.40,219.80h4.4M181.60,217.60v4.4" stroke="#00ff00" stroke-width="0.62" fill="none"/>
<path d="M180.00,218.50h3.2M180.00,221.10h3.2M181.60,218.50v2.6" stroke="#00ff00" stroke-width="0.45" fill="none"/>
<path d="M192.40,210.70h4.4M194.60,208.50v4.4" stroke="#00ff00" stroke-width="0.62" fill="none"/>
<path d="M193.00,208.40h3.2M193.00,213.00h3.2M194.60,208.40v4.6" stroke="#00ff00" stroke-width="0.45" fill="none"/>
<path d="M220.30,181.65h4.4M222.50,179.45v4.4" stroke="#00ff00" stroke-width="0.62" fill="none"/>
<path d="M220.90,180.35h3.2M220.90,182.95h3.2M222.50,180.35v2.6" stroke="#00ff00" stroke-width="0.45" fill="none"/>
<path d="M245.40,161.40h4.4M247.60,159.20v4.4" stroke="#00ff00" stroke-width="0.62" fill="none"/>
<path d="M246.00,160.10h3.2M246.00,162.70h3.2M247.60,160.10v2.6" stroke="#00ff00" stroke-width="0.45" fill="none"/>
<path d="M272.90,139.60h4.4M275.10,137.40v4.4" stroke="#00ff00" stroke-width="0.62" fill="none"/>
<path d="M273.50,138.30h3.2M273.50,140.90h3.2M275.10,138.30v2.6" stroke="#00ff00" stroke-width="0.45" fill="none"/>
<path d="M334.40,112.20h4.4M336.60,110.00v4.4" stroke="#00ff00" stroke-width="0.62" fill="none"/>
<path d="M335.00,110.90h3.2M335.00,113.50h3.2M336.60,110.90v2.6" stroke="#00ff00" stroke-width="0.45" fill="none"/>
<path d="M407.20,95.20h4.4M409.40,93.00v4.4" stroke="#00ff00" stroke-width="0.62" fill="none"/>
<path d="M407.80,93.90h3.2M407.80,96.50h3.2M409.40,93.90v2.6" stroke="#00ff00" stroke-width="0.45" fill="none"/>
<path d="M123.40,266.90h4.8M125.80,264.50v4.8" stroke="#ff0000" stroke-width="0.62" fill="none"/><path d="M123.90,265.00l3.8,3.8M123.90,268.80l3.8,-3.8" stroke="#ff0000" stroke-width="0.6" fill="none"/>
<path d="M124.60,266.90h2.4" stroke="#ff0000" stroke-width="1.0" fill="none"/>
<path d="M130.20,264.50h4.8M132.60,262.10v4.8" stroke="#ff0000" stroke-width="0.62" fill="none"/><path d="M130.70,262.60l3.8,3.8M130.70,266.40l3.8,-3.8" stroke="#ff0000" stroke-width="0.6" fill="none"/>
<path d="M131.40,264.50h2.4" stroke="#ff0000" stroke-width="1.0" fill="none"/>
<path d="M137.10,262.10h4.8M139.50,259.70v4.8" stroke="#ff0000" stroke-width="0.62" fill="none"/><path d="M137.60,260.20l3.8,3.8M137.60,264.00l3.8,-3.8" stroke="#ff0000" stroke-width="0.6" fill="none"/>
<path d="M138.30,262.10h2.4" stroke="#ff0000" stroke-width="1.0" fill="none"/>
<path d="M144.00,259.90h4.8M146.40,257.50v4.8" stroke="#ff0000" stroke-width="0.62" fill="none"/><path d="M144.50,258.00l3.8,3.8M144.50,261.80l3.8,-3.8" stroke="#ff0000" stroke-width="0.6" fill="none"/>
<path d="M145.20,259.90h2.4" stroke="#ff0000" stroke-width="1.0" fill="none"/>
<path d="M155.40,252.10h4.8M157.80,249.70v4.8" stroke="#ff0000" stroke-width="0.62" fill="none"/><path d="M155.90,250.20l3.8,3.8M155.90,254.00l3.8,-3.8" stroke="#ff0000" stroke-width="0.6" fill="none"/>
<path d="M156.60,252.10h2.4" stroke="#ff0000" stroke-width="1.0" fill="none"/>
<path d="M166.70,241.10h4.8M169.10,238.70v4.8" stroke="#ff0000" stroke-width="0.62" fill="none"/><path d="M167.20,239.20l3.8,3.8M167.20,243.00l3.8,-3.8" stroke="#ff0000" stroke-width="0.6" fill="none"/>
<path d="M167.90,241.10h2.4" stroke="#ff0000" stroke-width="1.0" fill="none"/>
<path d="M174.50,228.20h4.8M176.90,225.80v4.8" stroke="#ff0000" stroke-width="0.62" fill="none"/><path d="M175.00,226.30l3.8,3.8M175.00,230.10l3.8,-3.8" stroke="#ff0000" stroke-width="0.6" fill="none"/>
<path d="M175.70,228.20h2.4" stroke="#ff0000" stroke-width="1.0" fill="none"/>
<path d="M180.10,224.00h4.8M182.50,221.60v4.8" stroke="#ff0000" stroke-width="0.62" fill="none"/><path d="M180.60,222.10l3.8,3.8M180.60,225.90l3.8,-3.8" stroke="#ff0000" stroke-width="0.6" fill="none"/>
<path d="M181.30,224.00h2.4" stroke="#ff0000" stroke-width="1.0" fill="none"/>
<path d="M192.00,194.10h4.8M194.40,191.70v4.8" stroke="#ff0000" stroke-width="0.62" fill="none"/><path d="M192.50,192.20l3.8,3.8M192.50,196.00l3.8,-3.8" stroke="#ff0000" stroke-width="0.6" fill="none"/>
<path d="M193.20,194.10h2.4" stroke="#ff0000" stroke-width="1.0" fill="none"/>
<path d="M219.90,103.40h4.8M222.30,101.00v4.8" stroke="#ff0000" stroke-width="0.62" fill="none"/><path d="M220.40,101.50l3.8,3.8M220.40,105.30l3.8,-3.8" stroke="#ff0000" stroke-width="0.6" fill="none"/>
<path d="M220.10,101.40h4.4M220.10,105.40h4.4M222.30,101.40v4.0" stroke="#ff0000" stroke-width="0.5" fill="none"/>
<path d="M245.05,62.35h4.8M247.45,59.95v4.8" stroke="#ff0000" stroke-width="0.62" fill="none"/><path d="M245.55,60.45l3.8,3.8M245.55,64.25l3.8,-3.8" stroke="#ff0000" stroke-width="0.6" fill="none"/>
<path d="M246.25,62.35h2.4" stroke="#ff0000" stroke-width="1.0" fill="none"/>
<path d="M272.60,48.00h4.8M275.00,45.60v4.8" stroke="#ff0000" stroke-width="0.62" fill="none"/><path d="M273.10,46.10l3.8,3.8M273.10,49.90l3.8,-3.8" stroke="#ff0000" stroke-width="0.6" fill="none"/>
<path d="M273.80,48.00h2.4" stroke="#ff0000" stroke-width="1.0" fill="none"/>
<path d="M334.10,41.60h4.8M336.50,39.20v4.8" stroke="#ff0000" stroke-width="0.62" fill="none"/><path d="M334.60,39.70l3.8,3.8M334.60,43.50l3.8,-3.8" stroke="#ff0000" stroke-width="0.6" fill="none"/>
<path d="M335.30,41.60h2.4" stroke="#ff0000" stroke-width="1.0" fill="none"/>
<path d="M105.10,263.50l4.8,4.8M105.10,268.30l4.8,-4.8" stroke="#0000ff" stroke-width="0.7" fill="none"/>
<path d="M106.10,265.90h2.8" stroke="#0000ff" stroke-width="1.0" fill="none"/>
<path d="M111.10,262.70l4.8,4.8M111.10,267.50l4.8,-4.8" stroke="#0000ff" stroke-width="0.7" fill="none"/>
<path d="M112.10,265.10h2.8" stroke="#0000ff" stroke-width="1.0" fill="none"/>
<path d="M117.20,261.60l4.8,4.8M117.20,266.40l4.8,-4.8" stroke="#0000ff" stroke-width="0.7" fill="none"/>
<path d="M118.20,264.00h2.8" stroke="#0000ff" stroke-width="1.0" fill="none"/>
<path d="M123.40,260.30l4.8,4.8M123.40,265.10l4.8,-4.8" stroke="#0000ff" stroke-width="0.7" fill="none"/>
<path d="M124.40,262.70h2.8" stroke="#0000ff" stroke-width="1.0" fill="none"/>
<path d="M130.20,257.50l4.8,4.8M130.20,262.30l4.8,-4.8" stroke="#0000ff" stroke-width="0.7" fill="none"/>
<path d="M131.20,259.90h2.8" stroke="#0000ff" stroke-width="1.0" fill="none"/>
<path d="M137.10,255.90l4.8,4.8M137.10,260.70l4.8,-4.8" stroke="#0000ff" stroke-width="0.7" fill="none"/>
<path d="M138.10,258.30h2.8" stroke="#0000ff" stroke-width="1.0" fill="none"/>
<path d="M144.00,251.70l4.8,4.8M144.00,256.50l4.8,-4.8" stroke="#0000ff" stroke-width="0.7" fill="none"/>
<path d="M145.00,254.10h2.8" stroke="#0000ff" stroke-width="1.0" fill="none"/>
<path d="M151.30,246.90l4.8,4.8M151.30,251.70l4.8,-4.8" stroke="#0000ff" stroke-width="0.7" fill="none"/>
<path d="M152.30,249.30h2.8" stroke="#0000ff" stroke-width="1.0" fill="none"/>
<path d="M155.70,244.20l4.8,4.8M155.70,249.00l4.8,-4.8" stroke="#0000ff" stroke-width="0.7" fill="none"/>
<path d="M156.70,246.60h2.8" stroke="#0000ff" stroke-width="1.0" fill="none"/>
<path d="M159.10,241.80l4.8,4.8M159.10,246.60l4.8,-4.8" stroke="#0000ff" stroke-width="0.7" fill="none"/>
<path d="M160.10,244.20h2.8" stroke="#0000ff" stroke-width="1.0" fill="none"/>
<path d="M163.30,238.70l4.8,4.8M163.30,243.50l4.8,-4.8" stroke="#0000ff" stroke-width="0.7" fill="none"/>
<path d="M164.30,241.10h2.8" stroke="#0000ff" stroke-width="1.0" fill="none"/>
<path d="M167.10,235.20l4.8,4.8M167.10,240.00l4.8,-4.8" stroke="#0000ff" stroke-width="0.7" fill="none"/>
<path d="M168.10,237.60h2.8" stroke="#0000ff" stroke-width="1.0" fill="none"/>
<path d="M170.80,232.60l4.8,4.8M170.80,237.40l4.8,-4.8" stroke="#0000ff" stroke-width="0.7" fill="none"/>
<path d="M171.80,235.00h2.8" stroke="#0000ff" stroke-width="1.0" fill="none"/>
<path d="M174.50,230.10l4.8,4.8M174.50,234.90l4.8,-4.8" stroke="#0000ff" stroke-width="0.7" fill="none"/>
<path d="M175.50,232.50h2.8" stroke="#0000ff" stroke-width="1.0" fill="none"/>
<path d="M183.57,213.45l4.8,4.8M183.57,218.25l4.8,-4.8" stroke="#0000ff" stroke-width="0.7" fill="none"/>
<path d="M184.57,215.85h2.8" stroke="#0000ff" stroke-width="1.0" fill="none"/>
<path d="M192.00,201.70l4.8,4.8M192.00,206.50l4.8,-4.8" stroke="#0000ff" stroke-width="0.7" fill="none"/>
<path d="M193.00,204.10h2.8" stroke="#0000ff" stroke-width="1.0" fill="none"/>
<path d="M220.10,152.10l4.8,4.8M220.10,156.90l4.8,-4.8" stroke="#0000ff" stroke-width="0.7" fill="none"/>
<path d="M221.10,154.50h2.8" stroke="#0000ff" stroke-width="1.0" fill="none"/>
<path d="M245.00,107.00l4.8,4.8M245.00,111.80l4.8,-4.8" stroke="#0000ff" stroke-width="0.7" fill="none"/>
<path d="M246.00,109.40h2.8" stroke="#0000ff" stroke-width="1.0" fill="none"/>
<path d="M272.60,81.00l4.8,4.8M272.60,85.80l4.8,-4.8" stroke="#0000ff" stroke-width="0.7" fill="none"/>
<path d="M273.60,83.40h2.8" stroke="#0000ff" stroke-width="1.0" fill="none"/>
<path d="M334.10,53.85l4.8,4.8M334.10,58.65l4.8,-4.8" stroke="#0000ff" stroke-width="0.7" fill="none"/>
<path d="M335.10,56.25h2.8" stroke="#0000ff" stroke-width="1.0" fill="none"/>
<path d="M407.16,45.07l4.8,4.8M407.16,49.87l4.8,-4.8" stroke="#0000ff" stroke-width="0.7" fill="none"/>
<path d="M408.16,47.47h2.8" stroke="#0000ff" stroke-width="1.0" fill="none"/>
<path d="M50.8,268.4 H176.7 V40.5 H428.5" fill="none" stroke="#000" stroke-width="0.9" stroke-dasharray="1.24 1.24 1.24 2.48"/>
<rect x="334.5" y="168.9" width="84.5" height="100.4" fill="#fff" stroke="#000" stroke-width="0.9"/>
<path d="M378.4,177.35H411.4" stroke="#00ff00" stroke-width="0.78" fill="none"/>
<path d="M378.4,175.65v3.4M411.4,175.65v3.4" stroke="#00ff00" stroke-width="0.72" fill="none"/>
<path d="M378.4,193.6H411.4" stroke="#0000ff" stroke-width="0.66" fill="none" stroke-dasharray="2.30 1.15"/>
<path d="M378.4,191.9v3.4M411.4,191.9v3.4" stroke="#0000ff" stroke-width="0.72" fill="none"/>
<path d="M378.4,210.6H411.4" stroke="#ff0000" stroke-width="0.66" fill="none" stroke-dasharray="1.15 1.72"/>
<path d="M378.4,208.9v3.4M411.4,208.9v3.4" stroke="#ff0000" stroke-width="0.72" fill="none"/>
<path d="M378.4,227.3H411.4" stroke="#ff00ff" stroke-width="0.66" fill="none" stroke-dasharray="0.57 0.86"/>
<path d="M378.4,225.60000000000002v3.4M411.4,225.60000000000002v3.4" stroke="#ff00ff" stroke-width="0.72" fill="none"/>
<path d="M378.4,244.1H411.4" stroke="#00ffff" stroke-width="0.66" fill="none" stroke-dasharray="2.88 1.15 0.57 1.15"/>
<path d="M378.4,242.4v3.4M411.4,242.4v3.4" stroke="#00ffff" stroke-width="0.72" fill="none"/>
<path d="M378.4,260.4H411.4" stroke="#ffff00" stroke-width="0.66" fill="none" stroke-dasharray="2.30 1.72 0.57 1.72"/>
<path d="M378.4,258.7v3.4M411.4,258.7v3.4" stroke="#ffff00" stroke-width="0.72" fill="none"/>
<path d="M392.60,177.35h4.4M394.80,175.15v4.4" stroke="#00ff00" stroke-width="0.62" fill="none"/>
<path d="M392.40,191.20l4.8,4.8M392.40,196.00l4.8,-4.8" stroke="#0000ff" stroke-width="0.7" fill="none"/>
<path d="M392.40,210.60h4.8M394.80,208.20v4.8" stroke="#ff0000" stroke-width="0.62" fill="none"/><path d="M392.90,208.70l3.8,3.8M392.90,212.50l3.8,-3.8" stroke="#ff0000" stroke-width="0.6" fill="none"/>
<rect x="392.05" y="224.55" width="5.5" height="5.5" fill="none" stroke="#ff00ff" stroke-width="0.6"/>
<rect x="393.00" y="242.30" width="3.6" height="3.6" fill="#00ffff"/>
<circle cx="394.80" cy="260.40" r="3.9" fill="none" stroke="#ffff00" stroke-width="0.7"/>
<g font-family="Liberation Sans, sans-serif" opacity="0.99" text-rendering="geometricPrecision"><g fill="#000"><text x="37.23" y="272.75" font-size="12">0</text></g>
<g fill="#000"><text x="27.22" y="227.17" font-size="12">0.2</text></g>
<g fill="#000"><text x="27.22" y="181.59" font-size="12">0.4</text></g>
<g fill="#000"><text x="27.22" y="136.01" font-size="12">0.6</text></g>
<g fill="#000"><text x="27.22" y="90.43" font-size="12">0.8</text></g>
<g fill="#000"><path transform="translate(37.23,44.85) scale(0.005859,-0.005859)" d="M763 0H583V1147Q518 1085 412.5 1023T223 930V1104Q373 1174.5 485.5 1275T645 1470H763Z"/></g>
<g fill="#000"><text x="67.64" y="295.70" font-size="12">0.6</text></g>
<g fill="#000"><text x="118.00" y="295.70" font-size="12">0.8</text></g>
<g fill="#000"><path transform="translate(173.36,295.70) scale(0.005859,-0.005859)" d="M763 0H583V1147Q518 1085 412.5 1023T223 930V1104Q373 1174.5 485.5 1275T645 1470H763Z"/></g>
<g fill="#000"><path transform="translate(218.72,295.70) scale(0.005859,-0.005859)" d="M763 0H583V1147Q518 1085 412.5 1023T223 930V1104Q373 1174.5 485.5 1275T645 1470H763Z"/><text x="225.39" y="295.70" font-size="12">.2</text></g>
<g fill="#000"><path transform="translate(269.08,295.70) scale(0.005859,-0.005859)" d="M763 0H583V1147Q518 1085 412.5 1023T223 930V1104Q373 1174.5 485.5 1275T645 1470H763Z"/><text x="275.75" y="295.70" font-size="12">.4</text></g>
<g fill="#000"><path transform="translate(319.44,295.70) scale(0.005859,-0.005859)" d="M763 0H583V1147Q518 1085 412.5 1023T223 930V1104Q373 1174.5 485.5 1275T645 1470H763Z"/><text x="326.11" y="295.70" font-size="12">.6</text></g>
<g fill="#000"><path transform="translate(369.80,295.70) scale(0.005859,-0.005859)" d="M763 0H583V1147Q518 1085 412.5 1023T223 930V1104Q373 1174.5 485.5 1275T645 1470H763Z"/><text x="376.47" y="295.70" font-size="12">.8</text></g>
<g fill="#000"><text x="425.16" y="295.70" font-size="12">2</text></g>
<g fill="#000"><text x="224.80" y="311.65" font-size="12">T / T</text><text x="249.46" y="315.35" font-size="10">c</text></g>
<g fill="#000"><text x="356.60" y="144.40" font-size="12">Z</text><text x="363.93" y="147.90" font-size="10">e</text><text x="369.49" y="144.40" font-size="12">(</text><path transform="translate(373.49,144.40) scale(0.005859,-0.005859)" d="M763 0H583V1147Q518 1085 412.5 1023T223 930V1104Q373 1174.5 485.5 1275T645 1470H763Z"/><text x="380.16" y="144.40" font-size="12">)</text></g>
<g fill="#00ff00"><text x="345.51" y="182.75" font-size="12">6</text><text x="352.19" y="176.55" font-size="9.6">3</text><text x="357.53" y="182.75" font-size="12">x4</text></g>
<g fill="#0000ff"><text x="345.51" y="199.00" font-size="12">8</text><text x="352.19" y="192.80" font-size="9.6">3</text><text x="357.53" y="199.00" font-size="12">x4</text></g>
<g fill="#ff0000"><path transform="translate(338.84,216.00) scale(0.005859,-0.005859)" d="M763 0H583V1147Q518 1085 412.5 1023T223 930V1104Q373 1174.5 485.5 1275T645 1470H763Z"/><text x="345.51" y="216.00" font-size="12">0</text><text x="352.19" y="209.80" font-size="9.6">3</text><text x="357.53" y="216.00" font-size="12">x4</text></g>
<g fill="#ff00ff"><path transform="translate(338.84,232.70) scale(0.005859,-0.005859)" d="M763 0H583V1147Q518 1085 412.5 1023T223 930V1104Q373 1174.5 485.5 1275T645 1470H763Z"/><text x="345.51" y="232.70" font-size="12">2</text><text x="352.19" y="226.50" font-size="9.6">3</text><text x="357.53" y="232.70" font-size="12">x4</text></g>
<g fill="#00ffff"><path transform="translate(338.84,249.50) scale(0.005859,-0.005859)" d="M763 0H583V1147Q518 1085 412.5 1023T223 930V1104Q373 1174.5 485.5 1275T645 1470H763Z"/><text x="345.51" y="249.50" font-size="12">6</text><text x="352.19" y="243.30" font-size="9.6">3</text><text x="357.53" y="249.50" font-size="12">x4</text></g>
<g fill="#ffff00"><text x="338.84" y="265.80" font-size="12">20</text><text x="352.19" y="259.60" font-size="9.6">3</text><text x="357.53" y="265.80" font-size="12">x4</text></g></g></svg>
</body></html>
